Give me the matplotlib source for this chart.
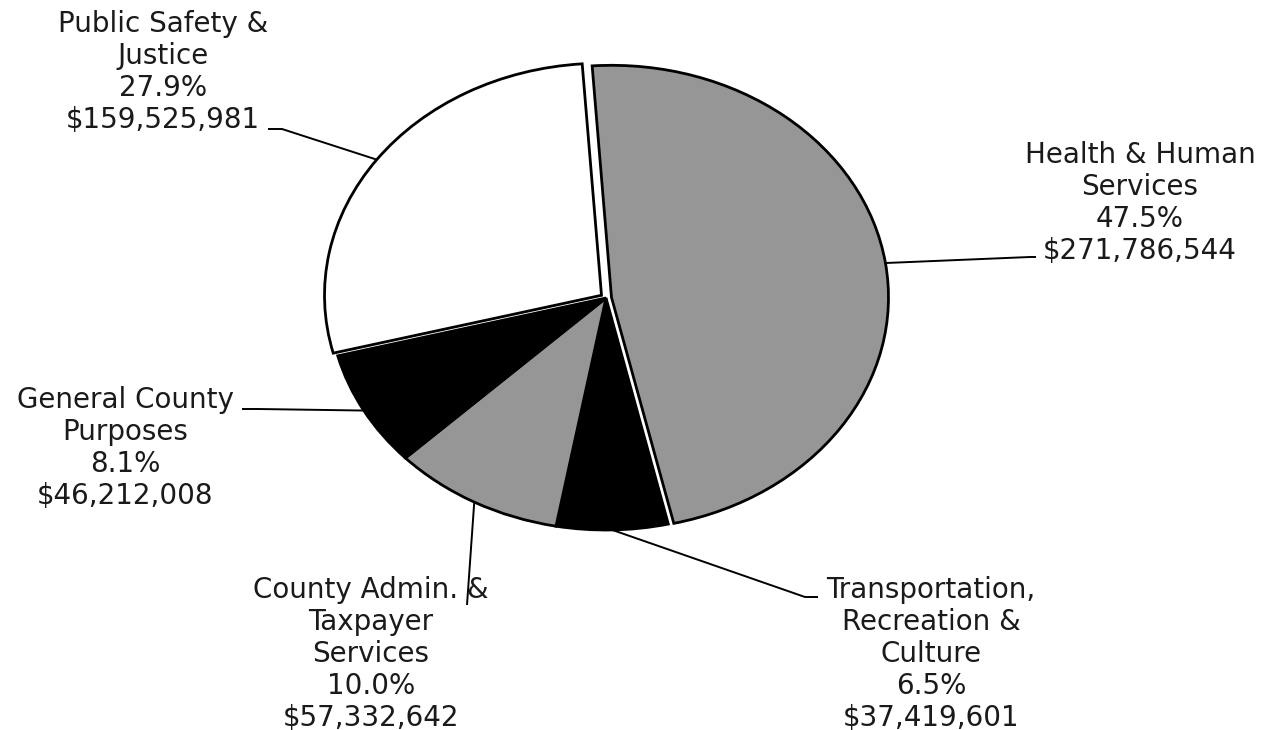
import numpy as np
import matplotlib
matplotlib.use("Agg")
import matplotlib.pyplot as plt

# ==============================
# DATA
# ==============================
categories = ["Health & Human\nServices",
              "Transportation,\nRecreation &\nCulture",
              "County Admin. &\nTaxpayer\nServices",
              "General County\nPurposes",
              "Public Safety &\nJustice"]
amounts = [271786544, 37419601, 57332642, 46212008, 159525981]
percents = [47.5, 6.5, 10.0, 8.1, 27.9]
colors = ["#969696", "#000000", "#969696", "#000000", "#ffffff"]
explode = [0.02, 0, 0, 0, 0.02]

# ==============================
# LAYOUT (pixels, top-left origin)
# ==============================
W, H = 1273, 730
cx, cy = 606, 298      # pie centre
rx, ry = 277, 232      # horizontal / vertical radius

# label block centre, leader elbow, leader end
label_pos = [(1140, 203), (931, 654), (371, 654), (125, 448), (163, 72)]
elbows = [(1030, 257), (805, 597), (467, 605), (258, 409), (282, 129)]
ends = [(1036, 257), (818, 597), (467, 605), (242, 409), (268, 129)]

fig = plt.figure(figsize=(W / 100, H / 100), dpi=100)
ax = fig.add_axes([0, 0, 1, 1])

wedges, _ = ax.pie(percents, colors=colors, explode=explode,
                   startangle=94, counterclock=False,
                   wedgeprops=dict(edgecolor="black", linewidth=2))

# stretch pie into an ellipse
ax.set_aspect("auto")
ax.set_xlim(-cx / rx, (W - cx) / rx)
ax.set_ylim(-(H - cy) / ry, cy / ry)
ax.axis("off")


def to_data(px, py):
    return (px - cx) / rx, (cy - py) / ry


for i, w in enumerate(wedges):
    mid = np.deg2rad((w.theta1 + w.theta2) / 2)
    ox, oy = w.center
    x0, y0 = ox + np.cos(mid), oy + np.sin(mid)
    ex, ey = to_data(*elbows[i])
    fx, fy = to_data(*ends[i])
    ax.plot([x0, ex, fx], [y0, ey, fy], color="black", lw=1.4,
            solid_capstyle="butt")

    tx, ty = to_data(*label_pos[i])
    txt = f"{categories[i]}\n{percents[i]:.1f}%\n${amounts[i]:,}"
    ax.text(tx, ty, txt, ha="center", va="center", multialignment="center",
            fontsize=20, family="DejaVu Sans", color="#1a1a1a",
            linespacing=1.18)

fig.savefig("out.png", dpi=100)
